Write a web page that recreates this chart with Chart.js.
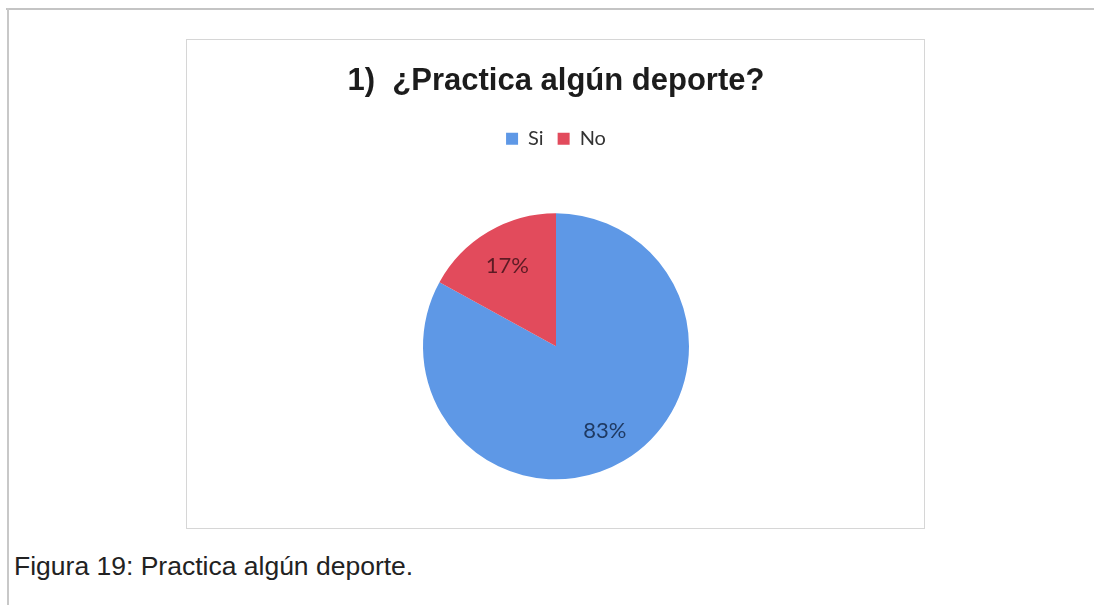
<!DOCTYPE html>
<html lang="es">
<head>
<meta charset="utf-8">
<title>Practica algún deporte</title>
<script src="https://cdn.jsdelivr.net/npm/chart.js@4.4.1/dist/chart.umd.min.js"></script>
<style>
  html, body { margin: 0; padding: 0; background: #ffffff; }
  body { width: 1094px; height: 605px; position: relative; overflow: hidden; }
  .frame-top { position: absolute; left: 6px; top: 8px; width: 1088px; height: 0; border-top: 2px solid #c4c4c4; }
  .frame-left { position: absolute; left: 7px; top: 8px; width: 0; height: 600px; border-left: 2px solid #c8c8c8; }
  .chart-box { position: absolute; left: 186px; top: 39px; width: 739px; height: 490px; border: 1px solid #d6d6d6; box-sizing: border-box; }
  .chart-wrap { position: absolute; left: 186px; top: 39px; width: 740px; height: 495px; }
  .caption { position: absolute; left: 14px; top: 551px; font-family: "Liberation Sans", Arial, sans-serif; font-size: 26.5px; color: #222222; white-space: nowrap; }
</style>
</head>
<body>
<div class="frame-top"></div>
<div class="frame-left"></div>
<div class="chart-box"></div>
<div class="chart-wrap"><canvas id="pie" width="740" height="495"></canvas></div>
<div class="caption">Figura 19: Practica algún deporte.</div>
<script>
// Survey answers and their shares (percent)
const categories = ['Si', 'No'];
const shares = [83, 17];
const sliceColors = ['#5e98e6', '#e24b5c'];
const labelColors = ['#1f3a63', '#5c1b24'];
const chartTitle = '1)  ¿Practica algún deporte?';

// Percentage labels drawn inside each slice
const sliceLabels = {
  id: 'sliceLabels',
  afterDatasetsDraw(chart) {
    const ctx = chart.ctx;
    const meta = chart.getDatasetMeta(0);
    const total = shares.reduce((a, b) => a + b, 0);
    ctx.save();
    ctx.font = '22px Lato, "Open Sans", sans-serif';
    ctx.textAlign = 'center';
    ctx.textBaseline = 'middle';
    meta.data.forEach((arc, i) => {
      const p = arc.getProps(['x', 'y', 'startAngle', 'endAngle', 'outerRadius'], true);
      const mid = (p.startAngle + p.endAngle) / 2;
      const r = p.outerRadius * 0.72;
      ctx.fillStyle = labelColors[i];
      ctx.fillText(Math.round(shares[i] / total * 100) + '%', p.x + Math.cos(mid) * r, p.y + Math.sin(mid) * r + 2);
    });
    ctx.restore();
  }
};

new Chart(document.getElementById('pie'), {
  type: 'pie',
  data: {
    labels: categories,
    datasets: [{
      data: shares,
      backgroundColor: sliceColors,
      borderWidth: 0,
      radius: 133
    }]
  },
  options: {
    responsive: false,
    animation: false,
    layout: { padding: 0 },
    plugins: {
      title: {
        display: true,
        text: chartTitle,
        color: '#1c1c1c',
        font: { family: '"Liberation Sans", Arial, sans-serif', size: 31, weight: 'bold', lineHeight: 1.2 },
        padding: { top: 24, bottom: 14.5 }
      },
      legend: {
        display: true,
        position: 'top',
        labels: {
          color: '#333333',
          font: { family: 'Lato, "Open Sans", sans-serif', size: 20 },
          boxWidth: 12,
          boxHeight: 12,
          padding: 14
        }
      },
      tooltip: { enabled: false }
    }
  },
  plugins: [sliceLabels]
});
</script>
</body>
</html>
